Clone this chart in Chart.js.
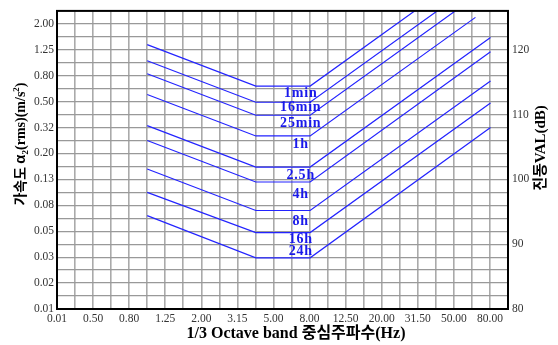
<!DOCTYPE html>
<html>
<head>
<meta charset="utf-8">
<script src="https://cdn.jsdelivr.net/npm/chart.js@4/dist/chart.umd.min.js"></script>
<style>
  html, body { margin: 0; padding: 0; background: #fff; }
  #wrap { width: 558px; height: 345px; position: relative; }
</style>
</head>
<body>
<div id="wrap"><canvas id="c"></canvas></div>
<script>
// Exposure duration of each boundary curve
const durations = ['1min', '16min', '25min', '1h', '2.5h', '4h', '8h', '16h', '24h'];
// Vibration level VAL (dB) at 1 Hz, along the 4–8 Hz plateau, and at the upper end
const valAt1Hz   = [120.8, 118.3, 116.3, 113.1, 108.3, 106.0, 101.6, 98.0, 94.4];
const valPlateau = [114.4, 111.9, 109.9, 106.7, 101.9, 99.6, 95.2, 91.8, 87.9];
const valUpper   = [134.4, 131.9, 129.9, 125.0, 121.9, 119.7, 115.2, 111.8, 108.0];
const upperFreq  = [80, 80, 80, 66, 80, 80, 80, 80, 80];
// Corner frequencies (Hz) shared by all curves
const cornerFreqs = [1, 4, 8];

// Axis tick labels
const xTickLabels = ['0.01', '0.50', '0.80', '1.25', '2.00', '3.15', '5.00', '8.00', '12.50', '20.00', '31.50', '50.00', '80.00'];
const accelLabels = ['0.01', '0.02', '0.03', '0.05', '0.08', '0.13', '0.20', '0.32', '0.50', '0.80', '1.25', '2.00'];
const valTicks = [80, 90, 100, 110, 120];

const VAL_MIN = 80, VAL_MAX = 126;
const LINE_BLUE = 'rgb(35,35,255)';
const TICK_FONT = { family: '"Liberation Serif", "Times New Roman", serif', size: 11.5 };

const datasets = durations.map((d, i) => ({
  label: d,
  data: [
    { x: cornerFreqs[0], y: valAt1Hz[i] },
    { x: cornerFreqs[1], y: valPlateau[i] },
    { x: cornerFreqs[2], y: valPlateau[i] },
    { x: upperFreq[i], y: valUpper[i] }
  ],
  borderColor: LINE_BLUE,
  borderWidth: 1.2,
  pointRadius: 0,
  fill: false,
  tension: 0
}));

// curve names written just under / beside each plateau
const curveLabelPlugin = {
  id: 'curveLabels',
  afterDatasetsDraw(chart) {
    const { ctx, scales } = chart;
    const offsets = [7, 5, 8, 8, 8, 12, 11, 7, -6];
    const x = scales.x.getPixelForValue(7.1);
    ctx.save();
    ctx.fillStyle = 'rgb(25,25,235)';
    ctx.font = 'bold 14px "Liberation Serif", serif';
    ctx.textAlign = 'center';
    ctx.textBaseline = 'middle';
    if ('letterSpacing' in ctx) ctx.letterSpacing = '0.8px';
    durations.forEach((d, i) => {
      const y = scales.y.getPixelForValue(valPlateau[i]) + offsets[i];
      ctx.fillText(d, x, y);
    });
    ctx.restore();
  }
};

function drawRuns(ctx, runs, cx, baseY) {
  let total = 0;
  runs.forEach(r => { ctx.font = r.font; r.w = ctx.measureText(r.text).width; total += r.w; });
  let x = cx - total / 2;
  runs.forEach(r => {
    ctx.font = r.font;
    ctx.fillText(r.text, x, baseY + (r.dy || 0));
    x += r.w;
  });
}

// frame and axis titles
const framePlugin = {
  id: 'frameAndTitles',
  afterDraw(chart) {
    const { ctx, chartArea: a } = chart;
    ctx.save();
    ctx.strokeStyle = '#000';
    ctx.lineWidth = 2;
    ctx.strokeRect(a.left, a.top, a.right - a.left, a.bottom - a.top);

    const serifB = s => 'bold ' + s + 'px "Liberation Serif", serif';
    const krB = s => 'bold ' + s + 'px "Noto Sans CJK KR", sans-serif';
    ctx.fillStyle = '#000';
    ctx.textBaseline = 'alphabetic';
    ctx.textAlign = 'left';

    // bottom title
    drawRuns(ctx, [
      { text: '1/3 Octave band ', font: serifB(16) },
      { text: '중심주파수', font: krB(16) },
      { text: '(Hz)', font: serifB(16) }
    ], 296, 338);

    // left title, reads bottom to top
    ctx.save();
    ctx.translate(25, 144);
    ctx.rotate(-Math.PI / 2);
    drawRuns(ctx, [
      { text: '가속도 ', font: krB(14) },
      { text: 'α', font: 'bold 15px "Liberation Sans", sans-serif' },
      { text: '2', font: serifB(9), dy: 3 },
      { text: '(rms)(m/s', font: serifB(14) },
      { text: '2', font: serifB(9), dy: -6 },
      { text: ')', font: serifB(14) }
    ], 0, 0);
    ctx.restore();

    // right title, reads bottom to top
    ctx.save();
    ctx.translate(545, 148);
    ctx.rotate(-Math.PI / 2);
    drawRuns(ctx, [
      { text: '진동', font: krB(15) },
      { text: 'VAL(dB)', font: serifB(15) }
    ], 0, 0);
    ctx.restore();

    ctx.restore();
  }
};

new Chart(document.getElementById('c'), {
  type: 'line',
  data: { datasets },
  options: {
    responsive: true,
    maintainAspectRatio: false,
    animation: false,
    layout: { padding: { top: 6, left: 0, right: 0, bottom: 0 } },
    plugins: { legend: { display: false }, tooltip: { enabled: false } },
    scales: {
      x: {
        type: 'logarithmic',
        bounds: 'data',
        min: Math.pow(10, -0.5),
        max: 100,
        afterBuildTicks: s => {
          s.ticks = Array.from({ length: 26 }, (_, k) => ({ value: Math.pow(10, (k - 5) / 10) }));
        },
        ticks: {
          autoSkip: false, maxRotation: 0, padding: 3,
          color: '#333', font: TICK_FONT,
          callback: (v, i) => (i % 2 === 0 ? xTickLabels[i / 2] : '')
        },
        grid: { color: '#aaaaaa', lineWidth: 1.6, drawTicks: false },
        border: { display: false },
        afterFit: s => { s.height = 36; }
      },
      y: {
        type: 'linear',
        position: 'left',
        bounds: 'data',
        min: VAL_MIN, max: VAL_MAX,
        afterBuildTicks: s => {
          const t = [];
          for (let v = VAL_MIN; v <= VAL_MAX; v += 2) t.push({ value: v });
          s.ticks = t;
        },
        ticks: {
          autoSkip: false, padding: 3, color: '#333', font: TICK_FONT,
          callback: v => ((v - VAL_MIN) % 4 === 0 ? (accelLabels[(v - VAL_MIN) / 4] || '') : '')
        },
        grid: { color: '#999999', lineWidth: 1.3, drawTicks: false },
        border: { display: false },
        afterFit: s => { s.width = 57; }
      },
      y2: {
        type: 'linear',
        position: 'right',
        bounds: 'data',
        min: VAL_MIN, max: VAL_MAX,
        afterBuildTicks: s => { s.ticks = valTicks.map(v => ({ value: v })); },
        ticks: { autoSkip: false, padding: 4, color: '#333', font: TICK_FONT },
        grid: { display: false, drawTicks: false },
        border: { display: false },
        afterFit: s => { s.width = 50; }
      }
    }
  },
  plugins: [curveLabelPlugin, framePlugin]
});
</script>
</body>
</html>
